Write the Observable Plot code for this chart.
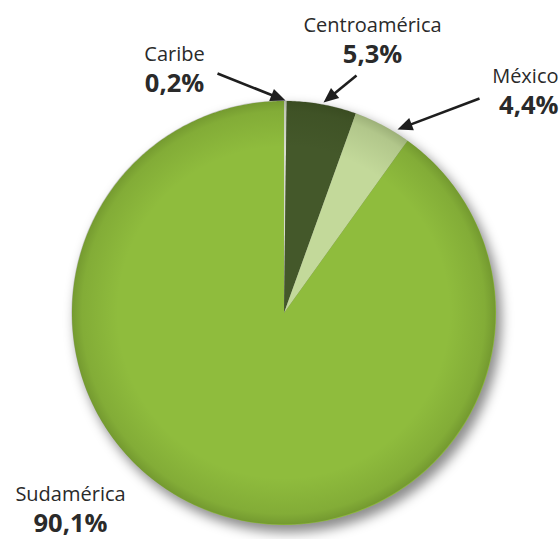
<!DOCTYPE html>
<html><head><meta charset="utf-8">
<script src="https://cdn.jsdelivr.net/npm/d3@7"></script>
<script src="https://cdn.jsdelivr.net/npm/@observablehq/plot@0.6"></script>
<style>html,body{margin:0;padding:0;background:#fff}svg{display:block}</style>
</head><body><div id="chart"></div>
<script>
// ---- data ----
const categories = ["Caribe", "Centroamérica", "México", "Sudamérica"];
const values = [0.2, 5.3, 4.4, 90.1];
const valueLabels = ["0,2%", "5,3%", "4,4%", "90,1%"];

// ---- styles ----
const colors = ["#d6dbcc", "#44582a", "#c3d99a", "#8fbc3d"];
const fontFamily = "'Open Sans', Lato, sans-serif";

// ---- layout (pixels) ----
const W = 560, H = 539, CX = 283.5, CY = 312.5, R = 212;
const labelLayout = {
  "Caribe":        {x: 174, nameBase: 60,  pctBase: 91,  anchor: "middle"},
  "Centroamérica": {x: 372, nameBase: 31,  pctBase: 62,  anchor: "middle"},
  "México":        {x: 558, nameBase: 82,  pctBase: 113, anchor: "end"},
  "Sudamérica":    {x: 70,  nameBase: 500, pctBase: 531, anchor: "middle"}
};
const arrowLayout = {
  "Caribe":        {x1: 217, y1: 73, x2: 285, y2: 100},
  "Centroamérica": {x1: 356, y1: 75, x2: 323, y2: 102},
  "México":        {x1: 479, y1: 98, x2: 397, y2: 129}
};
const nameSize = 20, pctSize = 25.5;

// pixel -> data helpers (same mapping as the scales below)
const dx = px => (px - CX) / R;
const dy = py => (CY - py) / R;

// ---- slices as polygons in data space ----
const total = d3.sum(values);
const slices = [];
let acc = 0;
categories.forEach((c, i) => {
  const a0 = acc / total * 2 * Math.PI;
  acc += values[i];
  const a1 = acc / total * 2 * Math.PI;
  slices.push({name: c, x: 0, y: 0});
  const n = Math.max(2, Math.ceil((a1 - a0) / 0.01));
  for (let j = 0; j <= n; j++) {
    const a = a0 + (a1 - a0) * j / n;
    slices.push({name: c, x: Math.sin(a), y: Math.cos(a)});
  }
});

// ---- labels ----
const nameRows = categories.map(c => ({name: c, x: dx(labelLayout[c].x), y: dy(labelLayout[c].nameBase - 0.32 * nameSize), anchor: labelLayout[c].anchor}));
const pctRows = categories.map((c, i) => ({name: valueLabels[i], x: dx(labelLayout[c].x), y: dy(labelLayout[c].pctBase - 0.32 * pctSize), anchor: labelLayout[c].anchor}));

// ---- arrows: shaft + filled head ----
const shafts = [], heads = [];
Object.entries(arrowLayout).forEach(([c, a]) => {
  const vx = a.x2 - a.x1, vy = a.y2 - a.y1, L = Math.hypot(vx, vy);
  const ux = vx / L, uy = vy / L, px = -uy, py = ux;
  const hl = 15, hw = 6.5;
  const bx = a.x2 - ux * hl, by = a.y2 - uy * hl;
  shafts.push({name: c, x1: dx(a.x1), y1: dy(a.y1), x2: dx(bx + ux * 2), y2: dy(by + uy * 2)});
  heads.push({name: c, x: dx(a.x2), y: dy(a.y2)});
  heads.push({name: c, x: dx(bx + px * hw), y: dy(by + py * hw)});
  heads.push({name: c, x: dx(bx - px * hw), y: dy(by - py * hw)});
});

function shadow(index, scales) {
  const cx = scales.x(0), cy = scales.y(0), r = scales.x(1) - scales.x(0);
  const g = d3.create("svg:g");
  g.append("defs").append("filter").attr("id", "blurShadow")
    .attr("x", "-20%").attr("y", "-20%").attr("width", "140%").attr("height", "140%")
    .append("feGaussianBlur").attr("stdDeviation", 6);
  g.append("circle").attr("cx", cx + 5).attr("cy", cy + 7).attr("r", r + 1)
    .attr("fill", "#000").attr("fill-opacity", 0.45).attr("filter", "url(#blurShadow)");
  return g.node();
}
function vignette(index, scales) {
  const cx = scales.x(0), cy = scales.y(0), r = scales.x(1) - scales.x(0);
  const g = d3.create("svg:g");
  const grad = g.append("defs").append("radialGradient").attr("id", "vig")
    .attr("gradientUnits", "userSpaceOnUse").attr("cx", cx).attr("cy", cy).attr("r", r);
  grad.append("stop").attr("offset", 0.78).attr("stop-color", "#142000").attr("stop-opacity", 0);
  grad.append("stop").attr("offset", 0.95).attr("stop-color", "#142000").attr("stop-opacity", 0.1);
  grad.append("stop").attr("offset", 1).attr("stop-color", "#142000").attr("stop-opacity", 0.22);
  g.append("circle").attr("cx", cx).attr("cy", cy).attr("r", r).attr("fill", "url(#vig)");
  return g.node();
}

const textMarks = ["middle", "end"].flatMap(anchor => [
  Plot.text(nameRows.filter(d => d.anchor === anchor), {x: "x", y: "y", text: "name", textAnchor: anchor, fontSize: nameSize, fill: "#2a2a2a", fontWeight: 400, lineAnchor: "middle"}),
  Plot.text(pctRows.filter(d => d.anchor === anchor), {x: "x", y: "y", text: "name", textAnchor: anchor, fontSize: pctSize, fill: "#2a2a2a", fontWeight: 700, lineAnchor: "middle"})
]);

const chart = Plot.plot({
  width: W, height: H,
  margin: 0,
  style: {background: "#fff", overflow: "visible", fontFamily},
  x: {domain: [-1, 1], range: [CX - R, CX + R], axis: null},
  y: {domain: [-1, 1], range: [CY + R, CY - R], axis: null},
  color: {domain: categories, range: colors},
  marks: [
    shadow,
    Plot.line(slices, {x: "x", y: "y", z: "name", fill: "name", stroke: "none", curve: "linear-closed"}),
    vignette,
    Plot.link(shafts, {x1: "x1", y1: "y1", x2: "x2", y2: "y2", stroke: "#1e1e1e", strokeWidth: 2.6}),
    Plot.line(heads, {x: "x", y: "y", z: "name", fill: "#1e1e1e", stroke: "none", curve: "linear-closed"}),
    ...textMarks
  ]
});
document.getElementById("chart").appendChild(chart);
</script>
</body></html>
